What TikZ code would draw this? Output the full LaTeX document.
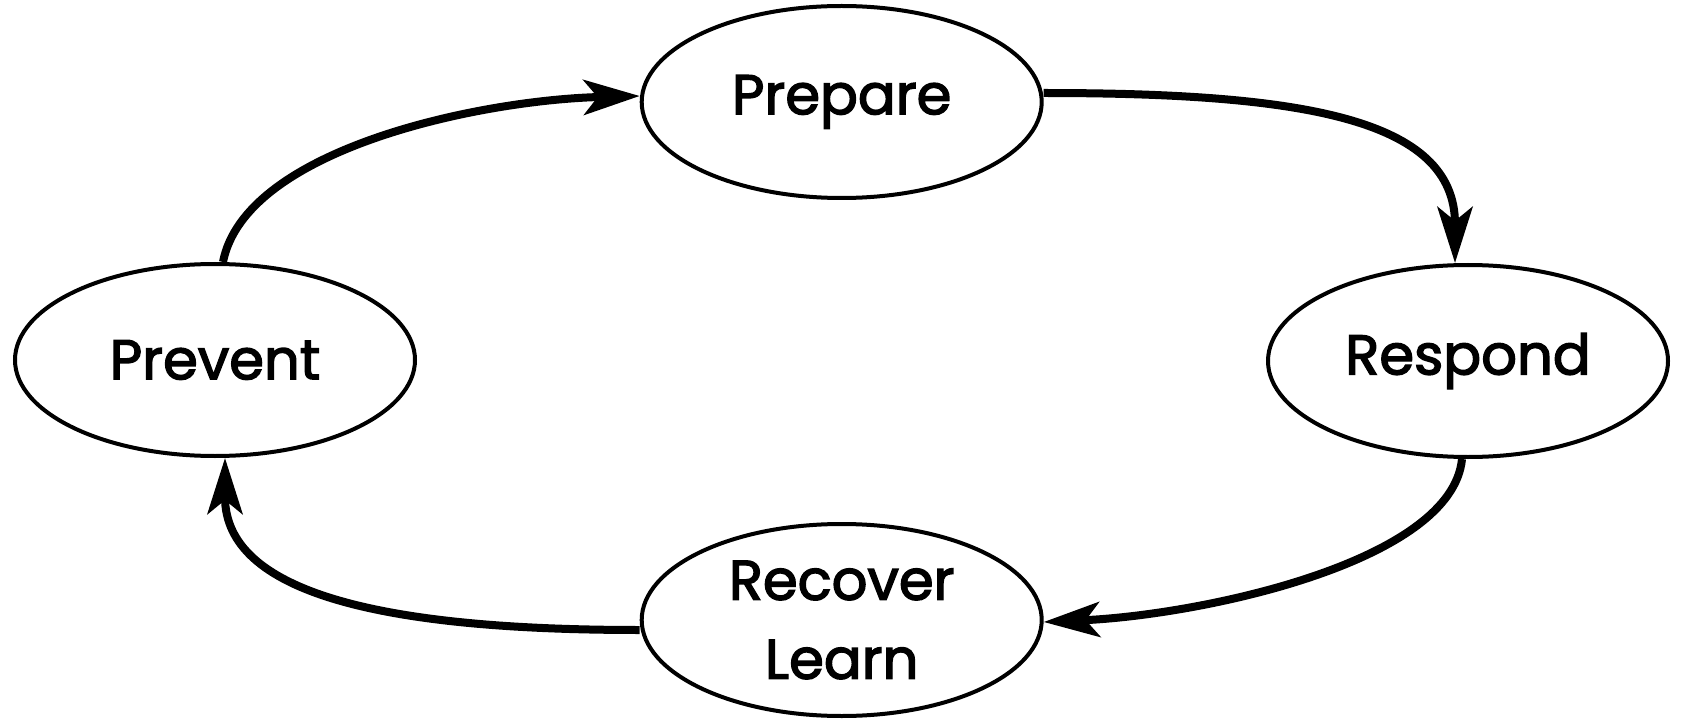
\documentclass[tikz,border=0pt]{standalone}
\usepackage{fontspec}
\setmainfont{Poppins}[FakeBold=2.5]
\usetikzlibrary{shapes.geometric,arrows.meta}
\begin{document}
\begin{tikzpicture}[x=1pt,y=-1pt,
  phase/.style={ellipse,draw,line width=4pt,minimum width=400pt,minimum height=192pt,inner sep=0pt,
    font=\fontsize{56}{79}\selectfont,align=center},
  flow/.style={line width=8pt,-{Stealth[length=56pt,width=35pt,inset=14pt]}}]
\useasboundingbox (0,0) rectangle (1681,719);
\node[phase] (prepare) at (841.7,102) {Prepare};
\node[phase] (prevent) at (215,360) {Prevent};
\node[phase] (respond) at (1468,361) {Respond};
\node[phase] (recover) at (841.7,620) {Recover\\Learn};
\draw[flow] ([xshift=8pt]prevent.north) .. controls +(22,-113) and +(-160,4) .. ([yshift=6pt]prepare.west);
\draw[flow] ([yshift=9pt]prepare.east) .. controls +(257,0) and +(0,-145) .. ([xshift=-13pt]respond.north);
\draw[flow] ([xshift=-6pt]respond.south) .. controls +(-10,103) and +(158,-7) .. ([yshift=-2pt]recover.east);
\draw[flow] ([yshift=-10pt]recover.west) .. controls +(-258,0) and +(0,135) .. ([xshift=10pt]prevent.south);
\end{tikzpicture}
\end{document}
